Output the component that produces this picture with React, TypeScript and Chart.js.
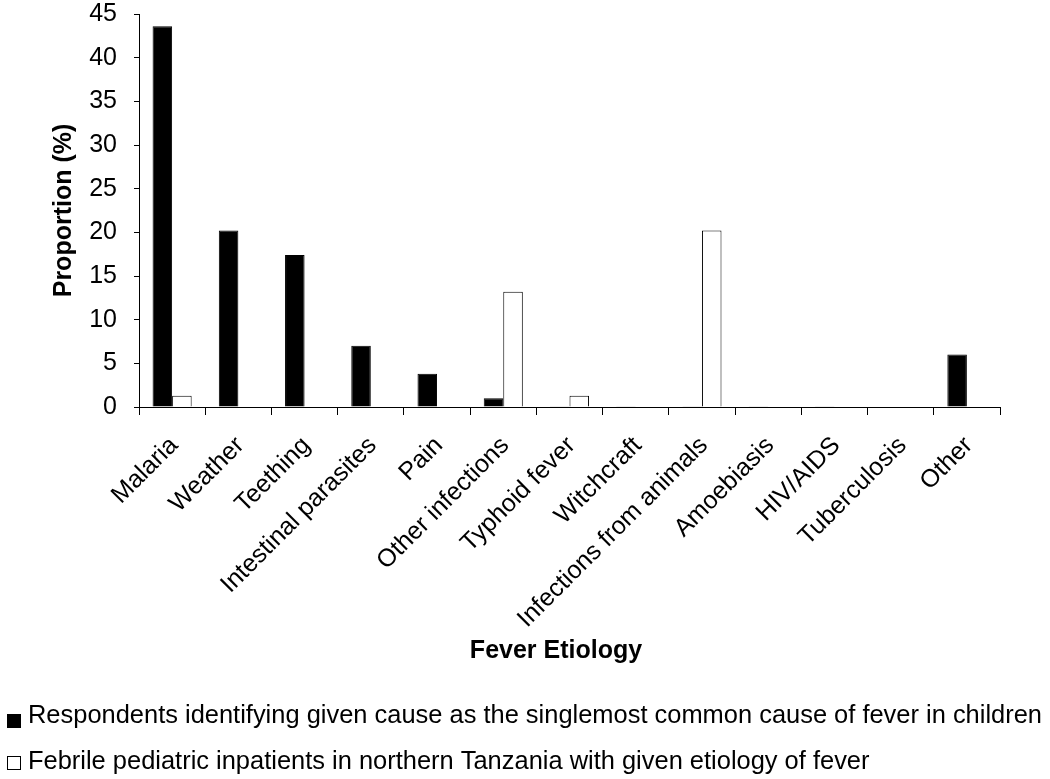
import React, { useEffect, useRef } from "react";
import { Chart, registerables } from "chart.js";

Chart.register(...registerables);

const categories = [
  "Malaria",
  "Weather",
  "Teething",
  "Intestinal parasites",
  "Pain",
  "Other infections",
  "Typhoid fever",
  "Witchcraft",
  "Infections from animals",
  "Amoebiasis",
  "HIV/AIDS",
  "Tuberculosis",
  "Other",
];

const respondents = [43.6, 20.2, 17.4, 7.0, 3.8, 1.0, 0.1, 0.1, 0.1, 0.1, 0.1, 0, 6.0];
const inpatients = [1.3, 0, 0, 0, 0, 13.2, 1.3, 0, 20.2, 0, 0, 0, 0];

const seriesNames = [
  "Respondents identifying given cause as the singlemost common cause of fever in children",
  "Febrile pediatric inpatients in northern Tanzania with given etiology of fever",
];

const xTitle = "Fever Etiology";
const yTitle = "Proportion (%)";

const yTicks = [0, 5, 10, 15, 20, 25, 30, 35, 40, 45];

const FONT = "'Liberation Sans', Arial, sans-serif";

const legendPlugin = {
  id: "bottomLegend",
  afterDraw(chart: any) {
    const ctx = chart.ctx as CanvasRenderingContext2D;
    ctx.save();
    ctx.font = `bold 25px ${FONT}`;
    ctx.fillStyle = "#000000";
    ctx.textAlign = "center";
    ctx.textBaseline = "alphabetic";
    ctx.fillText(xTitle, 556, 658);

    ctx.font = `26px ${FONT}`;
    ctx.textAlign = "left";
    const w0 = ctx.measureText(seriesNames[0]).width;
    const sx = 1014 / w0;
    const rows = [
      { baseline: 723, boxTop: 714, fill: "#000000" },
      { baseline: 769, boxTop: 756, fill: "#ffffff" },
    ];
    rows.forEach((r, i) => {
      ctx.fillStyle = r.fill;
      ctx.fillRect(7.5, r.boxTop + 0.5, 13, 13);
      ctx.strokeStyle = "#000000";
      ctx.lineWidth = 1;
      ctx.strokeRect(7.5, r.boxTop + 0.5, 13, 13);
      ctx.save();
      ctx.translate(28, r.baseline);
      ctx.scale(sx, 1);
      ctx.fillStyle = "#000000";
      ctx.fillText(seriesNames[i], 0, 0);
      ctx.restore();
    });
    ctx.restore();
  },
};

export default function App() {
  const ref = useRef<HTMLCanvasElement | null>(null);

  useEffect(() => {
    if (!ref.current) return;
    const chart = new Chart(ref.current, {
      type: "bar",
      data: {
        labels: categories,
        datasets: [
          {
            label: seriesNames[0],
            data: respondents,
            backgroundColor: "#000000",
            borderColor: "#000000",
            borderWidth: 1,
            categoryPercentage: 0.59,
            barPercentage: 1,
          },
          {
            label: seriesNames[1],
            data: inpatients,
            backgroundColor: "#ffffff",
            borderColor: "#000000",
            borderWidth: 1,
            categoryPercentage: 0.59,
            barPercentage: 1,
          },
        ],
      },
      plugins: [legendPlugin],
      options: {
        animation: false,
        responsive: false,
        maintainAspectRatio: false,
        layout: { padding: { left: 0, right: 50, top: 0, bottom: 0 } },
        plugins: {
          tooltip: { enabled: false },
          legend: { display: false },
        },
        scales: {
          x: {
            afterFit: (axis: any) => {
              axis.height = 372;
            },
            grid: {
              display: true,
              drawOnChartArea: false,
              drawTicks: true,
              tickLength: 8,
              color: "#000000",
              offset: true,
            },
            border: { display: true, color: "#000000", width: 1 },
            ticks: {
              color: "#000000",
              font: { family: FONT, size: 25 },
              maxRotation: 45,
              minRotation: 45,
              autoSkip: false,
              padding: 16,
              labelOffset: 2,
            },
            title: { display: false, text: xTitle },
          },
          y: {
            min: 0,
            max: 45,
            afterBuildTicks: (axis: any) => {
              axis.ticks = yTicks.map((v) => ({ value: v }));
            },
            afterFit: (axis: any) => {
              axis.width = 139;
              axis.paddingTop = 14;
            },
            grid: {
              display: true,
              drawOnChartArea: false,
              drawTicks: true,
              tickLength: 5,
              color: "#000000",
            },
            border: { display: true, color: "#000000", width: 1 },
            ticks: {
              color: "#000000",
              font: { family: FONT, size: 25 },
              padding: 17,
            },
            title: {
              display: true,
              text: yTitle,
              color: "#000000",
              font: { family: FONT, size: 25, weight: "bold" },
              padding: { top: 49, bottom: 0 },
            },
          },
        },
      },
    });
    return () => chart.destroy();
  }, []);

  return (
    <div style={{ position: "fixed", left: 0, top: 0, width: 1050, height: 779, background: "#ffffff" }}>
      <canvas ref={ref} width={1050} height={779} style={{ width: 1050, height: 779 }} />
    </div>
  );
}
